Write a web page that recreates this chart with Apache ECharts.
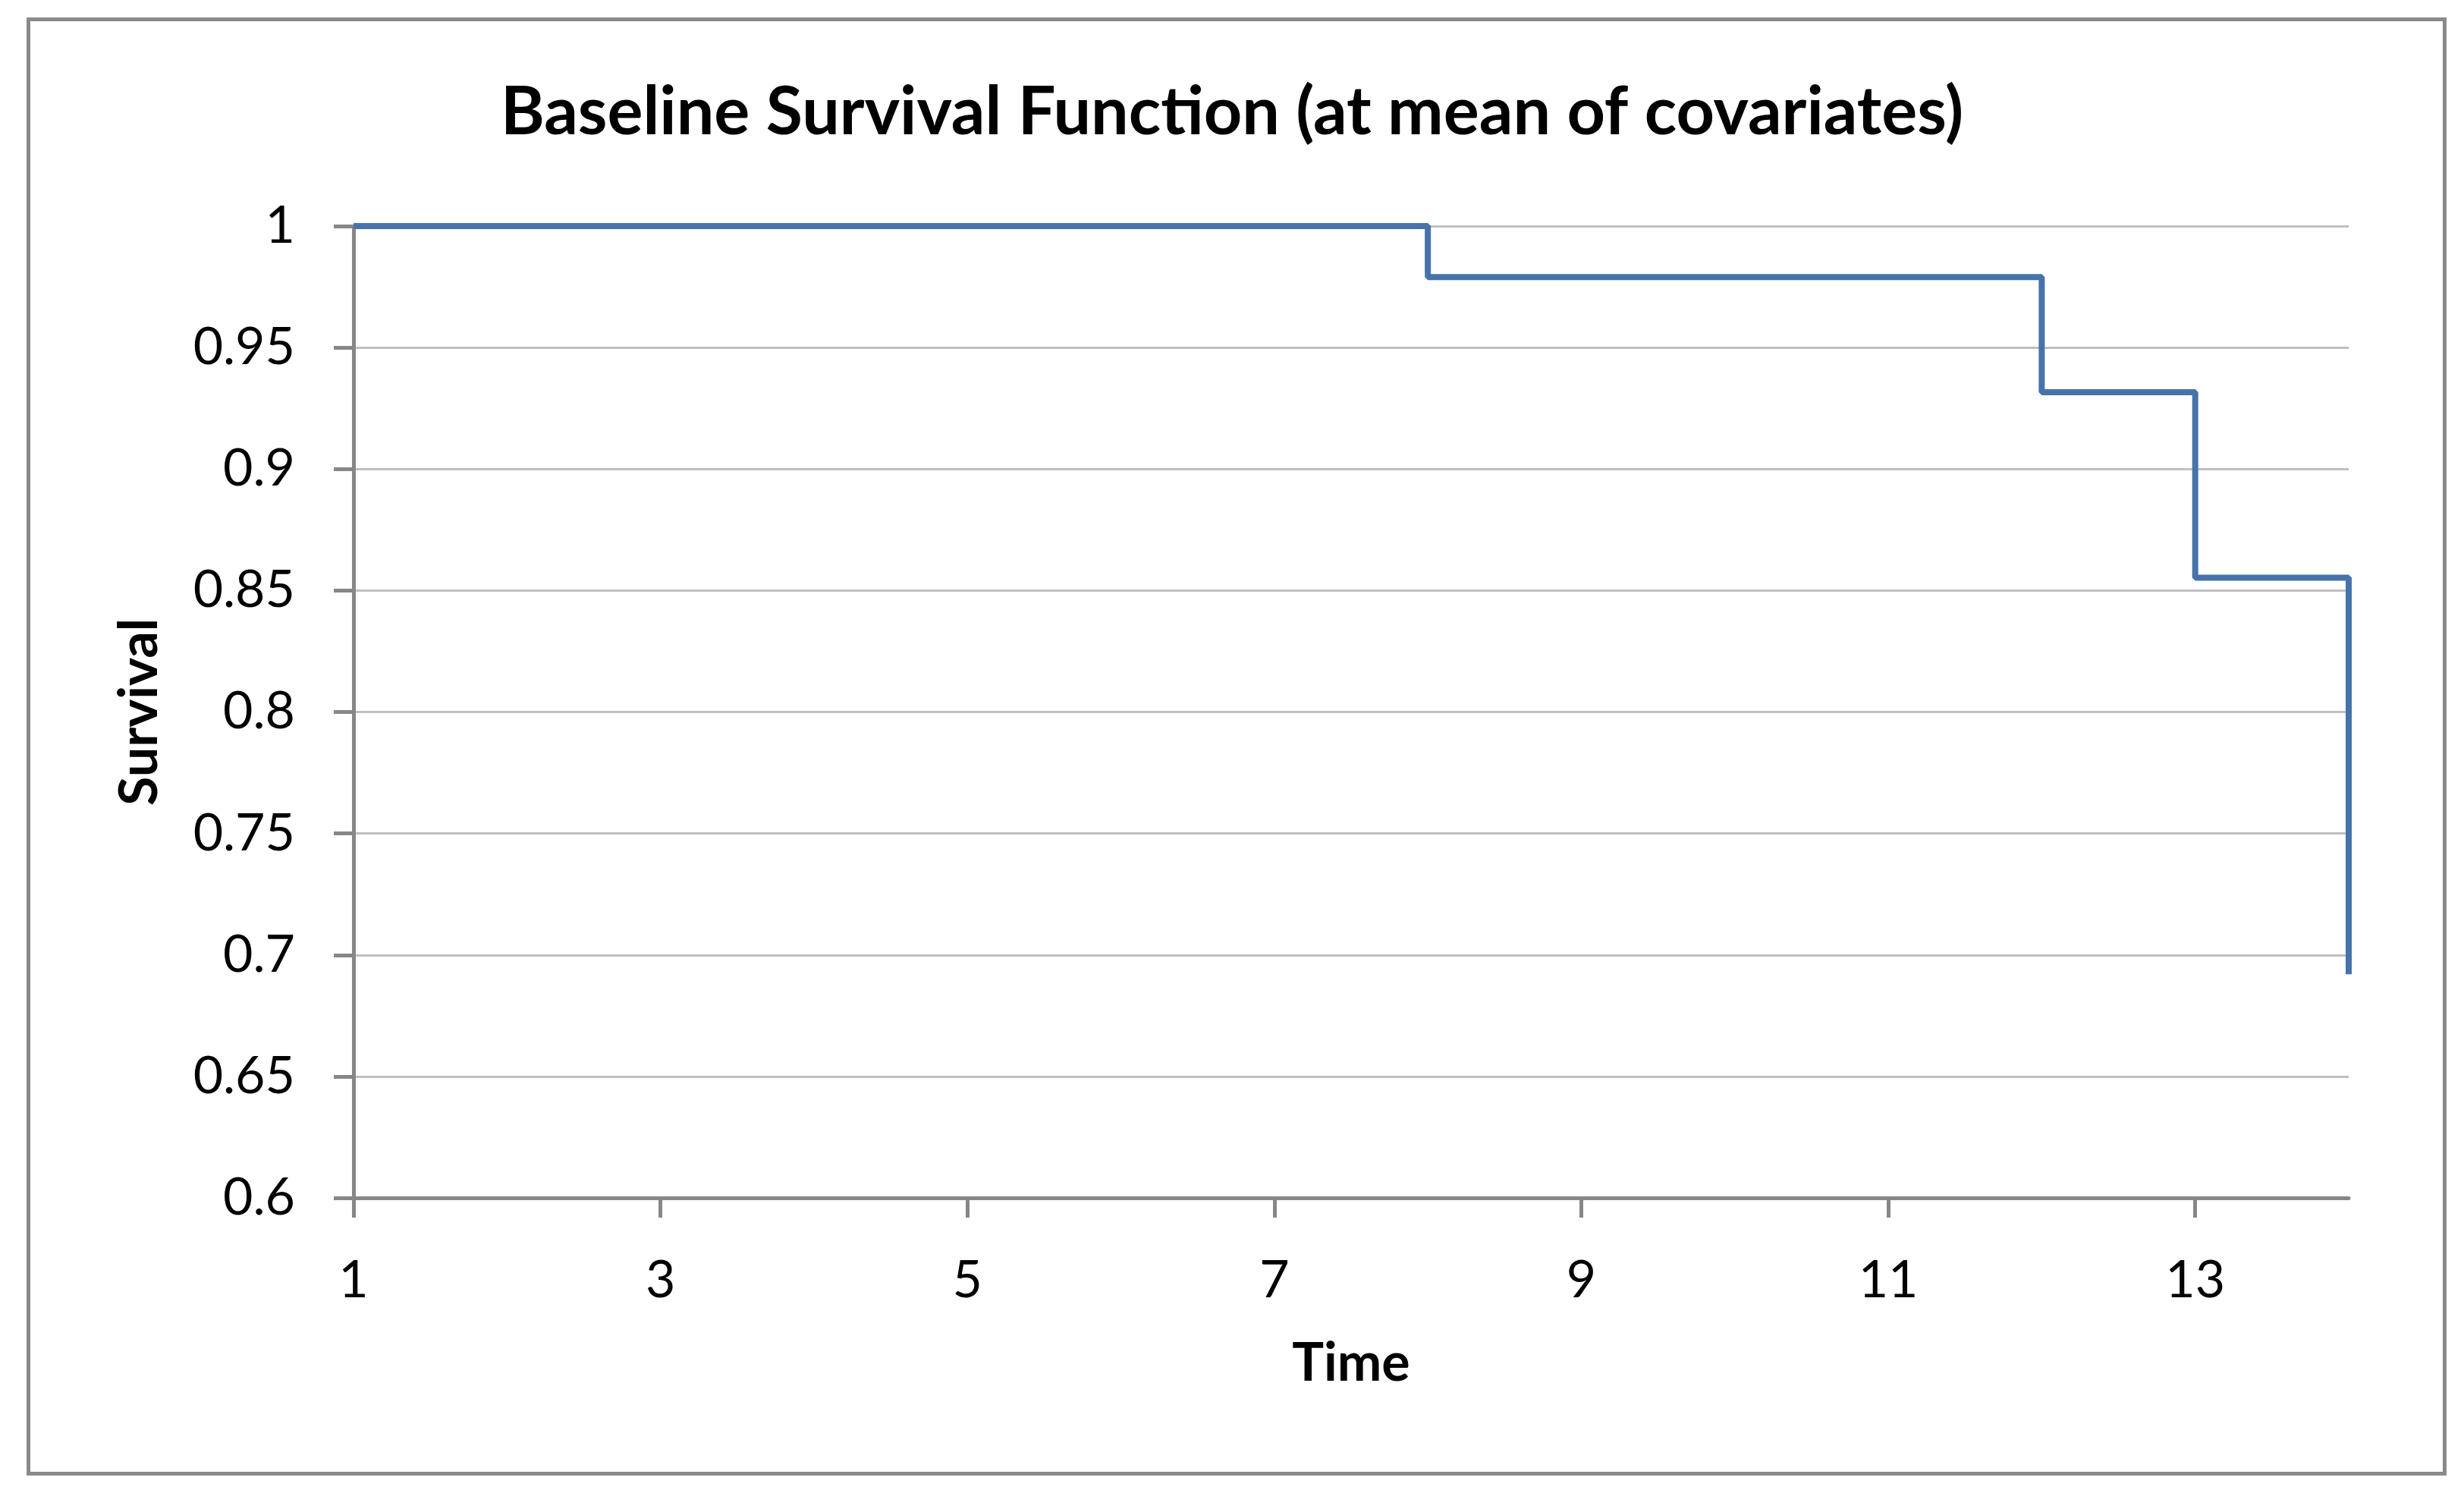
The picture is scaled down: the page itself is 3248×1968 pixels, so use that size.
<!DOCTYPE html>
<html>
<head>
<meta charset="utf-8">
<script src="https://cdn.jsdelivr.net/npm/echarts@6/dist/echarts.min.js"></script>
<style>
html,body{margin:0;padding:0;background:#fff;}
#chart{width:3248px;height:1968px;}
</style>
</head>
<body>
<div id="chart"></div>
<script>
// Data
const titleText = 'Baseline Survival Function (at mean of covariates)';
const xName = 'Time';
const yName = 'Survival';
const time = [1, 8, 12, 13, 14];
const survival = [1, 0.979, 0.9316, 0.8553, 0.692];
const xTicks = [1, 3, 5, 7, 9, 11, 13];
const yMin = 0.6, yMax = 1, yStep = 0.05;

const FONT = 'Lato, "Open Sans", sans-serif';
const AXIS = '#878787';

const chart = echarts.init(document.getElementById('chart'), null, {renderer: 'canvas'});
chart.setOption({
  backgroundColor: '#ffffff',
  animation: false,
  title: {
    text: titleText,
    left: 'center',
    top: 100,
    textStyle: {fontFamily: FONT, fontSize: 88, fontWeight: 'bold', color: '#000'}
  },
  graphic: [{
    type: 'rect',
    shape: {x: 37.5, y: 25.5, width: 3185, height: 1917},
    style: {fill: 'none', stroke: '#8a8a8a', lineWidth: 5},
    silent: true
  }],
  grid: {left: 466, right: 152, top: 298, bottom: 389, containLabel: false},
  xAxis: {
    type: 'value',
    min: 1, max: 14, interval: 2,
    name: xName,
    nameLocation: 'middle',
    nameGap: 218,
    nameTextStyle: {fontFamily: FONT, fontSize: 70, fontWeight: 'bold', color: '#000', verticalAlign: 'middle'},
    axisLine: {show: true, onZero: false, lineStyle: {color: AXIS, width: 5}},
    axisTick: {show: true, length: 26, customValues: xTicks, lineStyle: {color: AXIS, width: 5}},
    axisLabel: {customValues: xTicks, margin: 75, fontFamily: FONT, fontSize: 68, color: '#000', verticalAlign: 'top'},
    splitLine: {show: false}
  },
  yAxis: {
    type: 'value',
    min: yMin, max: yMax, interval: yStep,
    name: yName,
    nameLocation: 'middle',
    nameRotate: 90,
    nameGap: 282,
    nameTextStyle: {fontFamily: FONT, fontSize: 70, fontWeight: 'bold', color: '#000', verticalAlign: 'middle'},
    axisLine: {show: true, lineStyle: {color: AXIS, width: 5}},
    axisTick: {show: true, length: 26, lineStyle: {color: AXIS, width: 5}},
    axisLabel: {margin: 77, fontFamily: FONT, fontSize: 68, color: '#000',
      formatter: v => String(+v.toFixed(2))},
    splitLine: {show: true, lineStyle: {color: '#c0c0c0', width: 3}}
  },
  series: [{
    type: 'line',
    step: 'end',
    data: time.map((t, i) => [t, survival[i]]),
    showSymbol: false,
    symbol: 'none',
    lineStyle: {color: '#4673A9', width: 8},
    itemStyle: {color: '#4673A9'},
    z: 5
  }]
});
</script>
</body>
</html>
